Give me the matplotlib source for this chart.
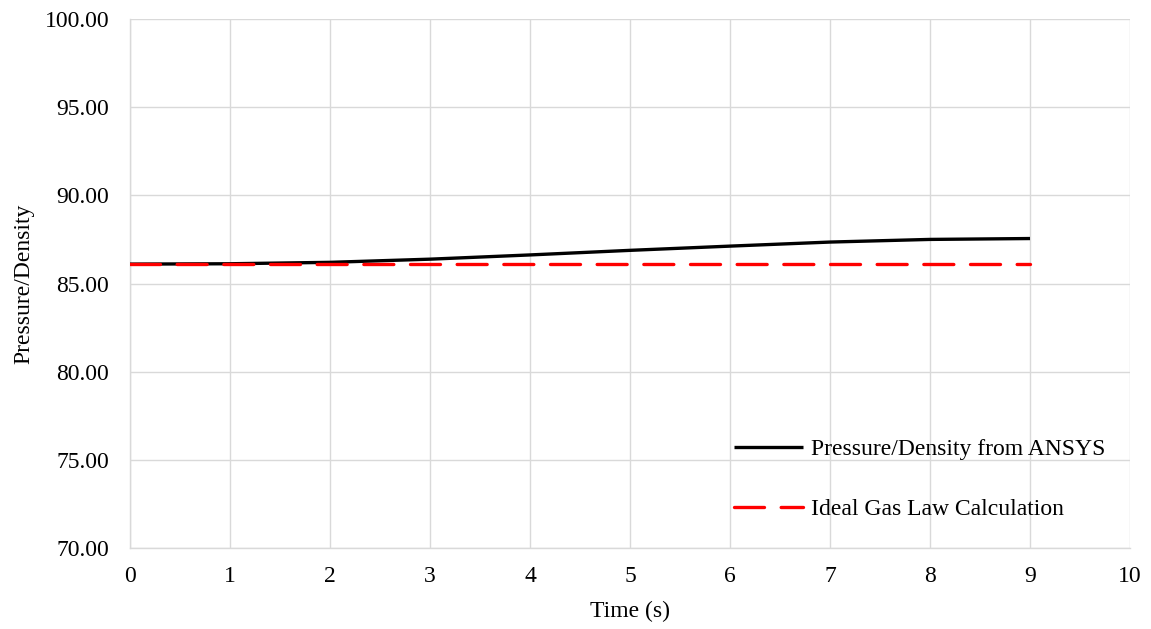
import matplotlib.pyplot as plt

TIME = [0, 1, 2, 3, 4, 5, 6, 7, 8, 9]
ANSYS = [86.10, 86.12, 86.20, 86.38, 86.62, 86.88, 87.12, 87.35, 87.50, 87.55]
IDEAL = [86.10] * 10
X_TICKS = list(range(0, 11))
Y_TICKS = [70, 75, 80, 85, 90, 95, 100]

plt.rcParams['font.family'] = ['Liberation Serif', 'DejaVu Serif']
FS = 17

fig = plt.figure(figsize=(11.51, 6.29), dpi=100)
ax = fig.add_axes([130/1151, 1-548/629, 1000/1151, 529/629])

grid_c = '#d9d9d9'
ax.plot(TIME, ANSYS, color='black', lw=2.4, label='Pressure/Density from ANSYS', zorder=3,
        solid_capstyle='butt')
ax.plot(TIME, IDEAL, color='#ff0000', lw=2.4, dashes=(9, 5), dash_capstyle='round',
        label='Ideal Gas Law Calculation', zorder=4)

ax.set_xlim(0, 10)
ax.set_ylim(70, 100)
ax.set_xticks(X_TICKS)
ax.set_yticks(Y_TICKS)
ax.set_yticklabels([f"{v:.2f}" for v in Y_TICKS])
ax.grid(True, color=grid_c, lw=1)
ax.set_axisbelow(True)
for s in ['top', 'right']:
    ax.spines[s].set_visible(False)
for s in ['left', 'bottom']:
    ax.spines[s].set_color(grid_c)
    ax.spines[s].set_linewidth(1)
ax.tick_params(axis='y', length=0, pad=15, labelsize=FS)
ax.tick_params(axis='x', length=0, pad=13, labelsize=FS)

ax.set_xlabel('Time (s)', fontsize=FS, labelpad=10)
ax.set_ylabel('Pressure/Density', fontsize=FS, labelpad=7)

leg = ax.legend(loc='lower left', bbox_to_anchor=(0.583, 0.012), frameon=False,
                handlelength=2.9, handletextpad=0.35, labelspacing=1.65, fontsize=FS)

fig.savefig('out.png', dpi=100)
